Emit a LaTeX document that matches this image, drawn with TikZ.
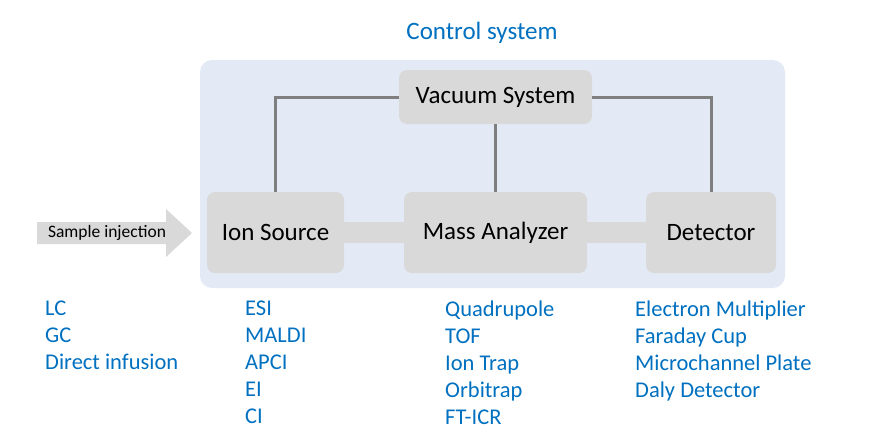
\documentclass[tikz,border=0pt]{standalone}
\usepackage{fontspec}
\setmainfont{Carlito}
\definecolor{panel}{HTML}{E4EAF5}
\definecolor{boxg}{HTML}{D9D9D9}
\definecolor{lineg}{HTML}{7F7F7F}
\definecolor{tblue}{HTML}{0070C0}
\begin{document}
\begin{tikzpicture}[x=1pt,y=-1pt,
  box/.style={fill=boxg,draw=none,rounded corners=8pt,font=\fontsize{25}{28}\selectfont},
  conn/.style={draw=lineg,line width=3pt},
  lst/.style={text=tblue,font=\fontsize{22.5}{27}\selectfont,align=left,anchor=north west,inner sep=0pt}]
\useasboundingbox (0,0) rectangle (887,440);
\fill[panel,rounded corners=12pt] (200,60) rectangle (785,288);
\node[text=tblue,font=\fontsize{25}{28}\selectfont] (title) at (482,33) {Control system};
\fill[boxg] (340,222) rectangle (650,243);
\node[box,minimum width=193pt,minimum height=54pt] (vac) at (495.5,97) {Vacuum System};
\node[box,minimum width=137pt,minimum height=81pt] (ion) at (275.5,232.5) {Ion Source};
\node[box,minimum width=183pt,minimum height=81pt] (mass) at (495.5,232.5) {Mass Analyzer};
\node[box,minimum width=130pt,minimum height=81pt] (det) at (711,232.5) {Detector};
\draw[conn] (vac.west) -| (ion.north);
\draw[conn] (vac.south) -- (mass.north);
\draw[conn] (vac.east) -| (det.north);
\fill[boxg] (37,222) -- (166,222) -- (166,209) -- (192,233) -- (166,257) -- (166,244) -- (37,244) -- cycle;
\node[font=\fontsize{17.5}{20}\selectfont] (inj) at (107,233) {Sample injection};
\node[lst] (c1) at (45,301) {LC\\GC\\Direct infusion};
\node[lst] (c2) at (245,301) {ESI\\MALDI\\APCI\\EI\\CI};
\node[lst] (c3) at (445,301) {Quadrupole\\TOF\\Ion Trap\\Orbitrap\\FT-ICR};
\node[lst] (c4) at (635,301) {Electron Multiplier\\Faraday Cup\\Microchannel Plate\\Daly Detector};
\end{tikzpicture}
\end{document}
